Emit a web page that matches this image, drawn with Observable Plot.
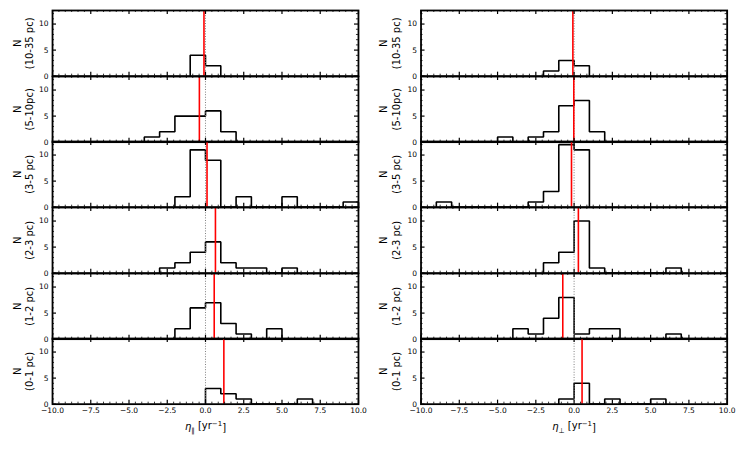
<!DOCTYPE html>
<html>
<head>
<meta charset="utf-8">
<script src="https://cdn.jsdelivr.net/npm/d3@7"></script>
<script src="https://cdn.jsdelivr.net/npm/@observablehq/plot@0.6"></script>
<style>
  body { margin: 0; background: #fff; }
  #fig { position: relative; width: 747px; height: 449px; font-family: "DejaVu Sans", sans-serif; overflow: hidden; }
  .cell { position: absolute; }
</style>
</head>
<body>
<div id="fig"></div>
<script>
// ---- data ----
const binEdges = [-10,-9,-8,-7,-6,-5,-4,-3,-2,-1,0,1,2,3,4,5,6,7,8,9,10];
const rowLabels = ["N\n(10-35 pc)", "N\n(5-10pc)", "N\n(3-5 pc)", "N\n(2-3 pc)", "N\n(1-2 pc)", "N\n(0-1 pc)"];

// eta_parallel histograms (counts per unit bin from -10 to 10)
const par_10_35 = [0,0,0,0,0,0,0,0,0,4,2,0,0,0,0,0,0,0,0,0];
const par_5_10  = [0,0,0,0,0,0,1,2,5,5,6,2,0,0,0,0,0,0,0,0];
const par_3_5   = [0,0,0,0,0,0,0,0,2,11,9,0,2,0,0,2,0,0,0,1];
const par_2_3   = [0,0,0,0,0,0,0,1,2,4,6,2,1,1,0,1,0,0,0,0];
const par_1_2   = [0,0,0,0,0,0,0,0,2,6,7,3,1,0,2,0,0,0,0,0];
const par_0_1   = [0,0,0,0,0,0,0,0,0,0,3,2,1,0,0,0,1,0,0,0];
const parMean   = [-0.1, -0.4, 0.1, 0.65, 0.57, 1.2];

// eta_perp histograms
const perp_10_35 = [0,0,0,0,0,0,0,0,1,3,2,0,0,0,0,0,0,0,0,0];
const perp_5_10  = [0,0,0,0,0,1,0,1,2,7,8,2,0,0,0,0,0,0,0,0];
const perp_3_5   = [0,1,0,0,0,0,0,1,3,12,11,0,0,0,0,0,0,0,0,0];
const perp_2_3   = [0,0,0,0,0,0,0,0,2,4,10,1,0,0,0,0,1,0,0,0];
const perp_1_2   = [0,0,0,0,0,0,2,1,4,8,1,2,2,0,0,0,1,0,0,0];
const perp_0_1   = [0,0,0,0,0,0,0,0,0,1,4,0,1,0,0,1,0,0,0,0];
const perpMean   = [-0.08, -0.02, -0.17, 0.28, -0.74, 0.52];

const xMajor = [-10, -7.5, -5, -2.5, 0, 2.5, 5, 7.5, 10];
const yMajor = [0, 5, 10];
const yMinor = [1, 2, 3, 4, 6, 7, 8, 9, 11, 12];
const xLabelPar = "η_par [yr^-1]";
const xLabelPerp = "η_perp [yr^-1]";
const yDomain = [0, 12.6];

// minor x ticks: 5 subdivisions between consecutive majors (as in the reference)
const xMinor = [];
for (let i = 0; i < xMajor.length - 1; i++) {
  for (let k = 1; k < 6; k++) xMinor.push(xMajor[i] + (xMajor[i + 1] - xMajor[i]) * k / 6);
}

const fmt = d3.format(".1f");

function steps(counts) {
  let first = counts.findIndex(c => c > 0);
  let last = counts.length - 1 - [...counts].reverse().findIndex(c => c > 0);
  const pts = [{x: binEdges[first], y: 0}];
  for (let i = first; i <= last; i++) {
    pts.push({x: binEdges[i], y: counts[i]});
    pts.push({x: binEdges[i + 1], y: counts[i]});
  }
  pts.push({x: binEdges[last + 1], y: 0});
  return pts;
}

const ROW_TOP = 10, ROW_H = 65.67;

const cols = [
  {left: 0, width: 370, ml: 52, mr: 12, labelDx: -29.5,
   counts: [par_10_35, par_5_10, par_3_5, par_2_3, par_1_2, par_0_1], means: parMean,
   xLabel: xLabelPar, sub: "∥"},
  {left: 370, width: 377, ml: 50.5, mr: 20.3, labelDx: -31.5,
   counts: [perp_10_35, perp_5_10, perp_3_5, perp_2_3, perp_1_2, perp_0_1], means: perpMean,
   xLabel: xLabelPerp, sub: "⊥"}
];

const fig = document.getElementById("fig");

function panel(col, row) {
  const last = row === 5;
  const mt = 3, mb = last ? 46 : 3;
  const H = ROW_H;
  const W = col.width - col.ml - col.mr;
  const marks = [
    Plot.line(steps(col.counts[row]), {x: "x", y: "y", stroke: "black", strokeWidth: 1.6, strokeLinejoin: "miter"}),
    Plot.ruleX([0], {x: d => d, stroke: "gray", strokeWidth: 1, strokeDasharray: "1,1.6"}),
    Plot.ruleX([col.means[row]], {x: d => d, stroke: "red", strokeWidth: 1.6}),
    // inward ticks: bottom & top
    Plot.tickX(xMajor, {x: d => d, insetTop: H - 4, stroke: "black", strokeWidth: 1.2}),
    Plot.tickX(xMajor, {x: d => d, insetBottom: H - 4, stroke: "black", strokeWidth: 1.2}),
    Plot.tickX(xMinor, {x: d => d, insetTop: H - 2, stroke: "black", strokeWidth: 0.8}),
    Plot.tickX(xMinor, {x: d => d, insetBottom: H - 2, stroke: "black", strokeWidth: 0.8}),
    // inward ticks: left & right
    Plot.tickY(yMajor, {y: d => d, insetRight: W - 4, stroke: "black", strokeWidth: 1.2}),
    Plot.tickY(yMajor, {y: d => d, insetLeft: W - 4, stroke: "black", strokeWidth: 1.2}),
    Plot.tickY(yMinor, {y: d => d, insetRight: W - 2, stroke: "black", strokeWidth: 0.8}),
    Plot.tickY(yMinor, {y: d => d, insetLeft: W - 2, stroke: "black", strokeWidth: 0.8}),
    Plot.frame({stroke: "black", strokeWidth: 1.8}),
    // y tick labels
    Plot.text(yMajor, {y: d => d, text: d => String(d), frameAnchor: "left", textAnchor: "end", dx: -4, fontSize: 7.5, fill: "black"}),
    // y label
    Plot.text([rowLabels[row]], {text: d => d, frameAnchor: "left", rotate: -90, dx: col.labelDx, fontSize: 10, lineHeight: 1.25, textAnchor: "middle", lineAnchor: "middle", fill: "black"})
  ];
  if (last) {
    marks.push(Plot.text(xMajor, {x: d => d, text: d => fmt(d), frameAnchor: "bottom", lineAnchor: "top", dy: 4, fontSize: 7.5, fill: "black"}));
    marks.push(Plot.text([col.xLabel], {text: d => d, frameAnchor: "bottom", lineAnchor: "middle", dy: 23, fontSize: 10, fill: "black"}));
  }
  const svg = Plot.plot({
    width: col.width,
    height: H + mt + mb,
    marginLeft: col.ml, marginRight: col.mr, marginTop: mt, marginBottom: mb,
    x: {domain: [-10, 10], axis: null},
    y: {domain: yDomain, axis: null},
    style: {background: "transparent", overflow: "visible", fontFamily: "DejaVu Sans", fontSize: "7.5px"},
    marks
  });
  if (last) {
    d3.select(svg).selectAll("text").filter(function () { return this.textContent === col.xLabel; }).each(function () {
      const t = d3.select(this);
      t.text(null);
      t.append("tspan").attr("font-style", "italic").text("η");
      t.append("tspan").attr("font-size", "0.7em").attr("dy", "0.35em").text(col.sub);
      t.append("tspan").attr("dy", "-0.35em").text(" [yr");
      t.append("tspan").attr("font-size", "0.7em").attr("dy", "-0.45em").text("−1");
      t.append("tspan").attr("dy", "0.45em").text("]");
    });
  }
  const div = document.createElement("div");
  div.className = "cell";
  div.style.left = col.left + "px";
  div.style.top = (ROW_TOP + row * ROW_H - mt) + "px";
  div.style.width = col.width + "px";
  div.appendChild(svg);
  fig.appendChild(div);
}

cols.forEach(col => { for (let r = 0; r < 6; r++) panel(col, r); });
</script>
</body>
</html>
